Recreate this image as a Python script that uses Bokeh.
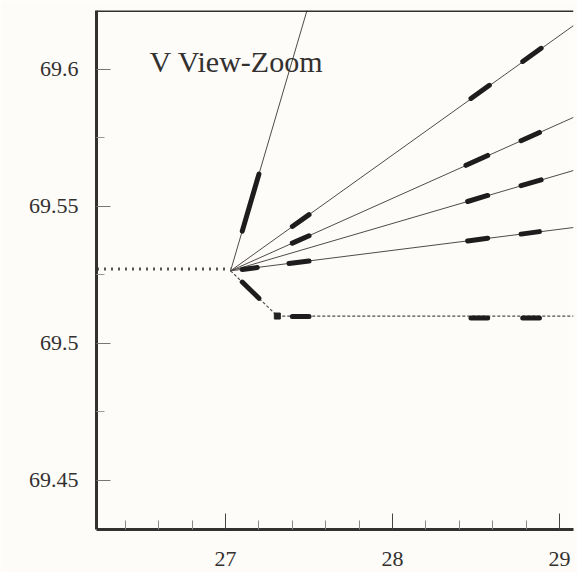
from bokeh.plotting import figure
from bokeh.models import FixedTicker, Label, Span, Range1d
from bokeh.embed import file_html
from bokeh.resources import INLINE

# ---- data (cm) ----
origin_x = 27.03
origin_y = 69.5265

# incoming track (dotted, from left)
in_x = [26.23, 27.03]
in_y = [69.5272, 69.5272]

# fan of candidate tracks from the vertex: end points
fan_end_x = [27.49, 29.084, 29.084, 29.084, 29.084]
fan_end_y = [69.6220, 69.6160, 69.5825, 69.5631, 69.5423]

# lower (kinked) track
low_x = [27.03, 27.31, 29.084]
low_y = [69.5265, 69.5100, 69.5100]
knee_x = [27.31]
knee_y = [69.5100]

# hits (thick short segments)
hit_x0 = [27.10, 27.40, 28.47, 28.78, 27.40, 28.44, 28.77, 28.45, 28.77,
          27.10, 27.38, 28.45, 28.77, 27.10, 27.40, 28.47, 28.78]
hit_x1 = [27.20, 27.50, 28.58, 28.89, 27.50, 28.57, 28.88, 28.57, 28.89,
          27.19, 27.50, 28.57, 28.88, 27.20, 27.50, 28.57, 28.88]
hit_y0 = [69.5410, 69.5427, 69.5894, 69.6029, 69.5366, 69.5650, 69.5740, 69.5518, 69.5576,
          69.5270, 69.5292, 69.5374, 69.5399, 69.5224, 69.5098, 69.5093, 69.5093]
hit_y1 = [69.5618, 69.5470, 69.5942, 69.6077, 69.5393, 69.5686, 69.5770, 69.5540, 69.5597,
          69.5277, 69.5301, 69.5384, 69.5408, 69.5165, 69.5098, 69.5093, 69.5093]

x_major = [27, 28, 29]
x_minor = [26.4, 26.6, 26.8, 27.2, 27.4, 27.6, 27.8, 28.2, 28.4, 28.6, 28.8]
y_major = [69.45, 69.5, 69.55, 69.6]
y_minor = [69.475, 69.525, 69.575]
y_labels = ["69.45", "69.5", "69.55", "69.6"]

title_text = "V View-Zoom"
unit_text = "(cm)"

BG = "#fdfcf8"
INK = "#333030"
SERIF = "Liberation Serif"

p = figure(width=577, height=572, output_backend="svg", toolbar_location=None,
           x_range=Range1d(26.227, 29.084), y_range=Range1d(69.4321, 69.6215),
           min_border_left=96, min_border_right=4, min_border_top=10, min_border_bottom=43,
           background_fill_color=BG, border_fill_color=BG)
p.outline_line_color = None
p.grid.visible = False

# axes
p.xaxis.ticker = FixedTicker(ticks=x_major, minor_ticks=x_minor)
p.xaxis.axis_line_width = 3
p.xaxis.axis_line_color = INK
p.xaxis.major_tick_in = 16
p.xaxis.major_tick_out = 0
p.xaxis.minor_tick_in = 9
p.xaxis.minor_tick_out = 0
p.xaxis.major_tick_line_color = "#444"
p.xaxis.minor_tick_line_color = "#888"
p.xaxis.major_label_text_font = SERIF
p.xaxis.major_label_text_font_size = "22px"
p.xaxis.major_label_text_color = INK
p.xaxis.major_label_standoff = 22

p.yaxis.ticker = FixedTicker(ticks=y_major, minor_ticks=y_minor)
p.yaxis.major_label_overrides = {v: s for v, s in zip(y_major, y_labels)}
p.yaxis.axis_line_width = 3
p.yaxis.axis_line_color = INK
p.yaxis.major_tick_in = 14
p.yaxis.major_tick_out = 0
p.yaxis.minor_tick_in = 8
p.yaxis.minor_tick_out = 0
p.yaxis.major_tick_line_color = "#777"
p.yaxis.minor_tick_line_color = "#999"
p.yaxis.major_label_text_font = SERIF
p.yaxis.major_label_text_font_size = "22px"
p.yaxis.major_label_text_color = INK
p.yaxis.major_label_standoff = 18

# top frame line
p.add_layout(Span(location=69.6215, dimension="width", line_color=INK, line_width=3))

# incoming dotted track
p.line(in_x, in_y, line_color="#555", line_width=3, line_dash="2 5")

# fan
p.segment(x0=[origin_x] * len(fan_end_x), y0=[origin_y] * len(fan_end_y),
          x1=fan_end_x, y1=fan_end_y, line_color="#504a4a", line_width=1)

# lower track
p.line(low_x, low_y, line_color="#504a4a", line_width=1.2, line_dash="3 2")
p.scatter(knee_x, knee_y, marker="square", size=6, color="#222")

# hits
p.segment(x0=hit_x0, y0=hit_y0, x1=hit_x1, y1=hit_y1, line_color="#1e1c1c",
          line_width=5, line_cap="round")

# title & unit
p.add_layout(Label(x=26.545, y=69.6029, text=title_text, text_font=SERIF,
                   text_font_size="30px", text_color=INK, text_baseline="alphabetic"))
p.add_layout(Label(x=26.232, y=69.4254, text=unit_text, level="overlay",
                   text_font=SERIF, text_font_size="12px", text_color="#333",
                   text_baseline="top"))

open("out.html", "w").write(file_html(p, INLINE))
